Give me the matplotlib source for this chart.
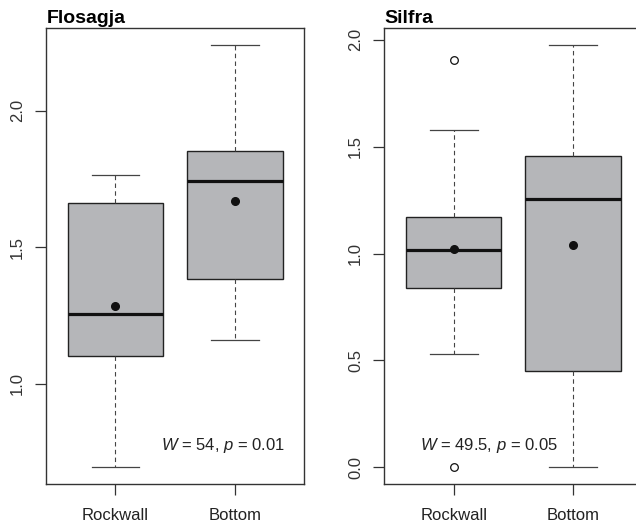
import matplotlib
matplotlib.use("Agg")
import matplotlib.pyplot as plt

plt.rcParams['font.family'] = ['Liberation Sans', 'DejaVu Sans']
plt.rcParams['mathtext.fontset'] = 'custom'
plt.rcParams['mathtext.rm'] = 'Liberation Sans'
plt.rcParams['mathtext.it'] = 'Liberation Sans:italic'

categories = ["Rockwall", "Bottom"]

# Flosagja panel stats
flo_whislo = [0.695, 1.162]
flo_q1 = [1.103, 1.382]
flo_med = [1.255, 1.741]
flo_q3 = [1.661, 1.854]
flo_whishi = [1.765, 2.242]
flo_mean = [1.286, 1.668]
flo_fliers = [[], []]
flo_title = "Flosagja"
flo_note = r"$W$ = 54, $p$ = 0.01"
flo_yticks = [1.0, 1.5, 2.0]

# Silfra panel stats
sil_whislo = [0.530, 0.0]
sil_q1 = [0.840, 0.452]
sil_med = [1.017, 1.255]
sil_q3 = [1.171, 1.456]
sil_whishi = [1.578, 1.978]
sil_mean = [1.023, 1.039]
sil_fliers = [[1.908, 0.0], []]
sil_title = "Silfra"
sil_note = r"$W$ = 49.5, $p$ = 0.05"
sil_yticks = [0.0, 0.5, 1.0, 1.5, 2.0]

fig = plt.figure(figsize=(6.36, 5.30), dpi=100)
W = 636.0
H = 530.0
ax_w = 257.7 / W
ax_b = 1 - 484.0 / H
ax_h = (484.0 - 27.7) / H
ax1 = fig.add_axes([46.3 / W, ax_b, ax_w, ax_h])
ax2 = fig.add_axes([384.5 / W, ax_b, ax_w, ax_h])


def panel(ax, whislo, q1, med, q3, whishi, mean, fliers, title, note, note_x, note_ha, yticks):
    stats = []
    for i in range(len(categories)):
        stats.append(dict(whislo=whislo[i], q1=q1[i], med=med[i], q3=q3[i],
                          whishi=whishi[i], fliers=fliers[i], label=categories[i]))
    pos = list(range(1, len(categories) + 1))
    ax.bxp(stats, positions=pos, widths=0.8, capwidths=0.4, patch_artist=True,
           showfliers=True,
           boxprops=dict(facecolor="#b5b6b9", edgecolor="#222222", linewidth=1.0),
           medianprops=dict(color="#111111", linewidth=2.3, solid_capstyle="butt"),
           whiskerprops=dict(color="#444444", linewidth=0.8, linestyle=(0, (4, 3))),
           capprops=dict(color="#444444", linewidth=0.9),
           flierprops=dict(marker="o", markersize=5.5, markerfacecolor="white",
                           markeredgecolor="#111111", markeredgewidth=0.9, linestyle="none"))
    ax.plot(pos, mean, "o", color="#111111", markersize=5.5, zorder=5)
    allv = whislo + whishi + [v for f in fliers for v in f]
    lo, hi = min(allv), max(allv)
    r = hi - lo
    ax.set_ylim(lo - 0.04 * r, hi + 0.04 * r)
    ax.set_xlim(0.42, 2.58)
    ax.set_xticks(pos)
    ax.set_xticklabels(categories, fontsize=12, color="#222222")
    ax.set_yticks(yticks)
    ax.set_yticklabels([f"{v:.1f}" for v in yticks], fontsize=12, rotation=90,
                       va="center", color="#333333")
    ax.tick_params(axis="x", length=8, width=0.9, color="#333333", pad=9)
    ax.tick_params(axis="y", length=8, width=0.9, color="#333333", pad=7.5)
    for s in ax.spines.values():
        s.set_color("#333333")
        s.set_linewidth(1.0)
    ax.set_title(title, loc="left", fontsize=14, fontweight="bold", pad=3.5)
    ax.text(note_x, 0.084, note, transform=ax.transAxes, fontsize=12,
            ha=note_ha, va="center", color="#222222")


panel(ax1, flo_whislo, flo_q1, flo_med, flo_q3, flo_whishi, flo_mean, flo_fliers,
      flo_title, flo_note, 0.926, "right", flo_yticks)
panel(ax2, sil_whislo, sil_q1, sil_med, sil_q3, sil_whishi, sil_mean, sil_fliers,
      sil_title, sil_note, 0.407, "center", sil_yticks)

fig.savefig("out.png", dpi=100)
